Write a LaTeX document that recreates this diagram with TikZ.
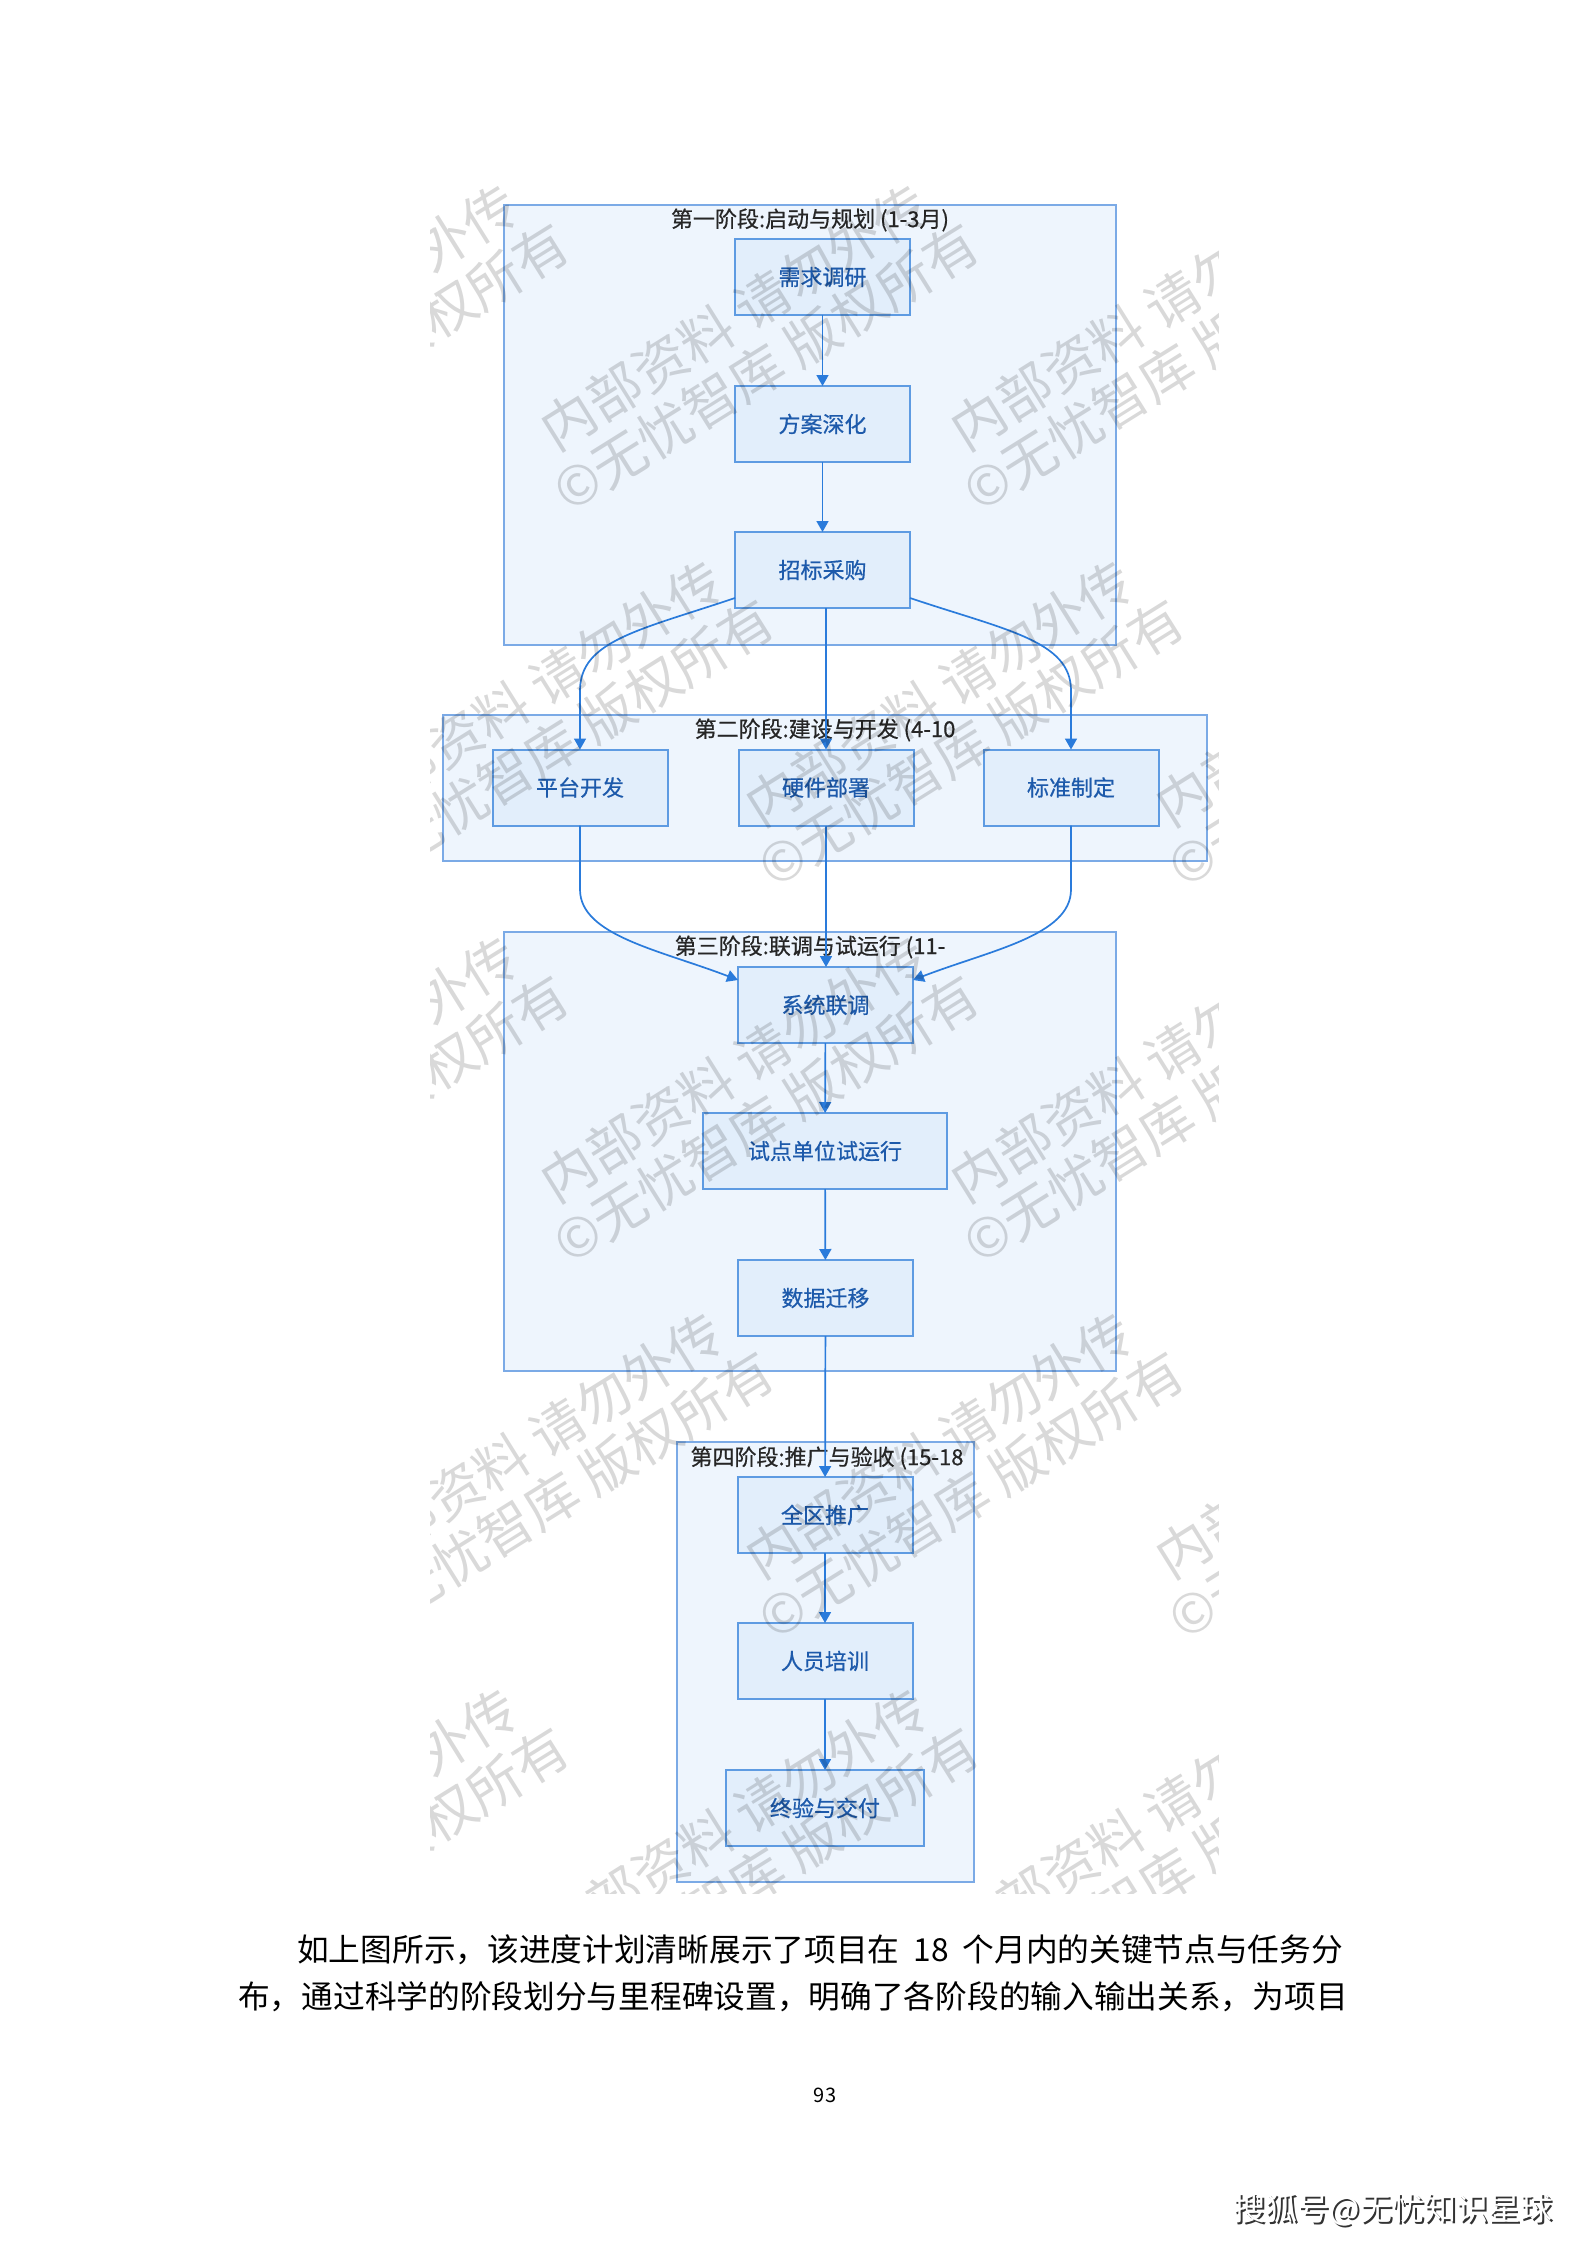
\documentclass[tikz,border=0pt]{standalone}
\usepackage{fontspec}
\newfontfamily\cjk{Noto Sans CJK SC}
\newfontfamily\cjkmed{Noto Sans CJK SC}[FakeBold=0.6]
\usetikzlibrary{arrows.meta,calc}
\definecolor{stagefill}{HTML}{EEF5FD}
\definecolor{stagedraw}{HTML}{7BAAE6}
\definecolor{nodefill}{HTML}{E2EEFB}
\definecolor{nodedraw}{HTML}{5E9BE2}
\definecolor{nodetext}{HTML}{1D5AAB}
\definecolor{edgecol}{HTML}{2A7BDB}
\tikzset{
  stagebox/.style={draw=stagedraw, fill=stagefill, line width=2pt, inner sep=0pt, outer sep=0pt},
  stagetitle/.style={font=\cjkmed\fontsize{22}{26}\selectfont, text=black!85, inner sep=0pt},
  task/.style={draw=nodedraw, fill=nodefill, line width=2pt, text=nodetext,
    font=\cjkmed\fontsize{22}{26}\selectfont, minimum width=175pt, minimum height=76pt,
    inner sep=0pt, outer sep=0pt},
  flow/.style={draw=edgecol, line width=1.7pt, -{Triangle[length=11pt,width=12pt]}},
  wm/.style={font=\cjk\fontsize{54}{59}\selectfont, text=black, text opacity=0.15,
    align=center, rotate=32, inner sep=0pt},
  para/.style={font=\cjk\fontsize{31.7}{36}\selectfont, text=black, inner sep=0pt, anchor=west}
}
\begin{document}
\begin{tikzpicture}[x=1pt,y=-1pt]
\fill[white] (0,0) rectangle (1587,2245);
\useasboundingbox (0,0) rectangle (1587,2245);

% stage boxes
\node[stagebox, minimum width=612pt, minimum height=440pt] (s1) at (810,425) {};
\node[stagebox, minimum width=764pt, minimum height=146pt] (s2) at (825,788) {};
\node[stagebox, minimum width=612pt, minimum height=439pt] (s3) at (810,1151.5) {};
\node[stagebox, minimum width=297pt, minimum height=440pt] (s4) at (825.5,1662) {};

\node[stagetitle] (t1) at (810,220) {第一阶段:启动与规划 (1-3月)};
\node[stagetitle] (t2) at (825,730) {第二阶段:建设与开发 (4-10};
\node[stagetitle] (t3) at (810,947) {第三阶段:联调与试运行 (11-};
\node[stagetitle] (t4) at (827,1458) {第四阶段:推广与验收 (15-18};

% tasks
\node[task] (xuqiu) at (822.5,277) {需求调研};
\node[task] (fangan) at (822.5,424) {方案深化};
\node[task] (zhaobiao) at (822.5,570) {招标采购};
\node[task] (pingtai) at (580,787.5) {平台开发};
\node[task] (yingjian) at (826,787.5) {硬件部署};
\node[task] (biaozhun) at (1071,787.5) {标准制定};
\node[task] (xitong) at (825.5,1005) {系统联调};
\node[task, minimum width=244pt] (shidian) at (825,1151) {试点单位试运行};
\node[task] (shuju) at (825.5,1298) {数据迁移};
\node[task] (quanqu) at (825,1515) {全区推广};
\node[task] (renyuan) at (825,1661) {人员培训};
\node[task, minimum width=198pt] (zhongyan) at (825,1808) {终验与交付};

% edges
\draw[flow] (xuqiu) -- (fangan);
\draw[flow] (fangan) -- (zhaobiao);
\draw[flow] ([yshift=10pt]zhaobiao.south west)
  .. controls ($(zhaobiao.south west)+(-95,22)$) and ($(pingtai.north)+(0,-109)$)
  .. ($(pingtai.north)+(0,-59)$) -- (pingtai.north);
\draw[flow] (yingjian.north |- zhaobiao.south) -- (yingjian.north);
\draw[flow] ([yshift=10pt]zhaobiao.south east)
  .. controls ($(zhaobiao.south east)+(95,22)$) and ($(biaozhun.north)+(0,-109)$)
  .. ($(biaozhun.north)+(0,-59)$) -- (biaozhun.north);
\draw[flow] (pingtai.south) -- ($(pingtai.south)+(0,64)$)
  .. controls ($(pingtai.south)+(0,110)$) and ($(xitong.north west)+(-78,-17)$)
  .. ([yshift=-13pt]xitong.north west);
\draw[flow] (yingjian.south) -- (yingjian.south |- xitong.north);
\draw[flow] (biaozhun.south) -- ($(biaozhun.south)+(0,64)$)
  .. controls ($(biaozhun.south)+(0,110)$) and ($(xitong.north east)+(78,-17)$)
  .. ([yshift=-13pt]xitong.north east);
\draw[flow] (xitong) -- (shidian);
\draw[flow] (shidian) -- (shuju);
\draw[flow] (shuju) -- (quanqu);
\draw[flow] (quanqu) -- (renyuan);
\draw[flow] (renyuan) -- (zhongyan);

% watermark
\begin{scope}
\clip (430,186) rectangle (1218,1893);
\foreach \j in {0,1,2,3} {
  \foreach \i in {0,1,2,3,4} {
    \node[wm] (wa\i x\j) at ({-70+410*\i},{-410+752*\j}) {内部资料 请勿外传\\©无忧智库 版权所有};
    \node[wm] (wb\i x\j) at ({135+410*\i},{-34+752*\j}) {内部资料 请勿外传\\©无忧智库 版权所有};
  }
}
\end{scope}

% text below
\node[para] (line1) at (297,1950) {如上图所示，该进度计划清晰展示了项目在\hspace{14pt}18\hspace{14pt}个月内的关键节点与任务分};
\node[para] (line2) at (238,1997) {布，通过科学的阶段划分与里程碑设置，明确了各阶段的输入输出关系，为项目};
\node[font=\cjk\fontsize{20}{24}\selectfont, inner sep=0pt] (pagenum) at (825,2095) {93};

\node[font=\cjk\fontsize{32}{36}\selectfont, text=black!80, inner sep=0pt] (sohushadow) at (1395,2212) {搜狐号@无忧知识星球};
\node[font=\cjk\fontsize{32}{36}\selectfont, text=white, inner sep=0pt] (sohu) at (1393,2210) {搜狐号@无忧知识星球};
\end{tikzpicture}
\end{document}
